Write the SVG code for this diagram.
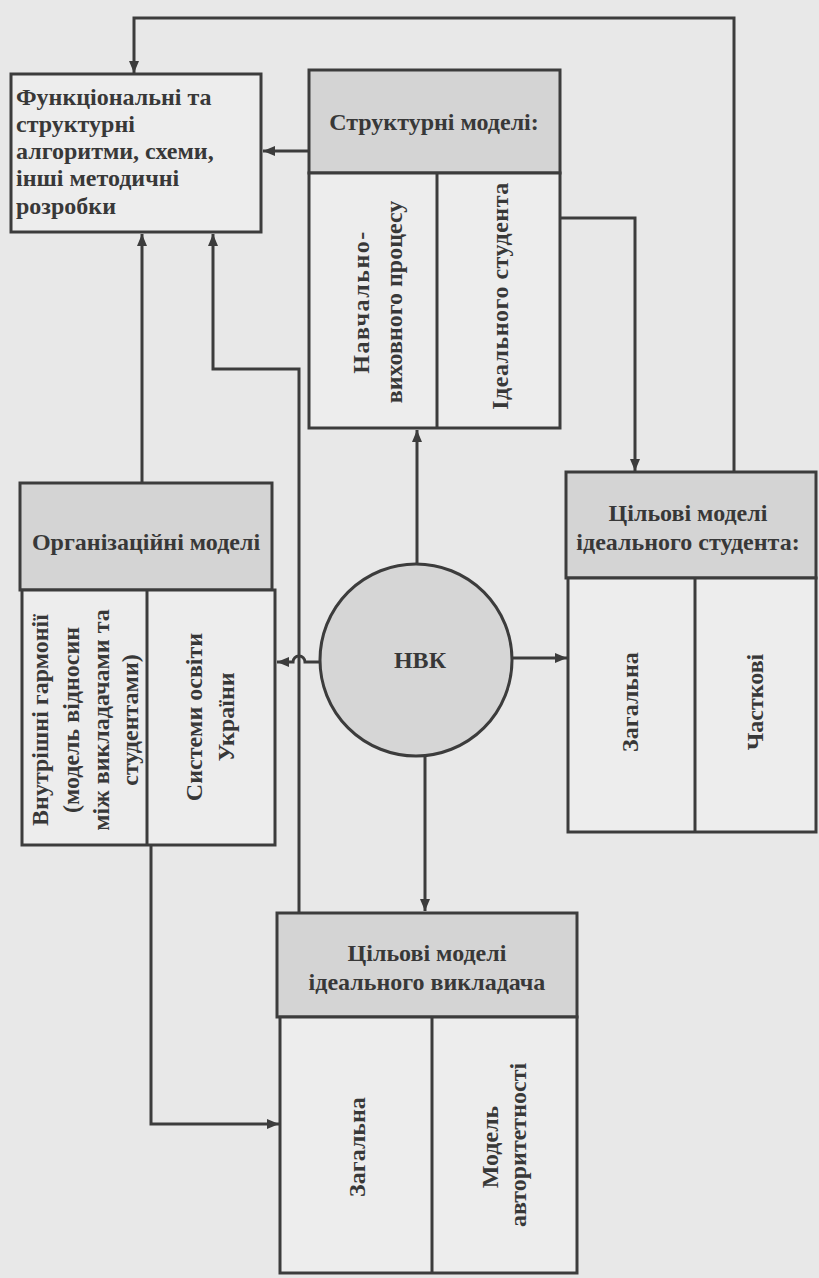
<svg xmlns="http://www.w3.org/2000/svg" width="819" height="1278" viewBox="0 0 819 1278">
<defs>
<style>
.bg{fill:#e8e8e8}
.box{fill:#ededed;stroke:#3c3c3c;stroke-width:3}
.hdr{fill:#d4d4d4;stroke:#3c3c3c;stroke-width:3}
.ln{fill:none;stroke:#3c3c3c;stroke-width:3}
text{font-family:'Liberation Serif','DejaVu Serif',serif;font-weight:bold;font-size:24px;fill:#383838}
.c{text-anchor:middle}
.v{text-anchor:middle;dominant-baseline:central}
</style>
<marker id="ar" markerUnits="userSpaceOnUse" markerWidth="13" markerHeight="11" refX="12" refY="5" orient="auto">
<path d="M0,0 L12,5 L0,10 z" fill="#3c3c3c"/>
</marker>
</defs>
<rect class="bg" x="0" y="0" width="819" height="1278"/>

<g id="connectors">
<path class="ln" d="M734,472 V18 H134 V73" marker-end="url(#ar)"/>
<path class="ln" d="M309,151 H263" marker-end="url(#ar)"/>
<path class="ln" d="M142,483 V234" marker-end="url(#ar)"/>
<path class="ln" d="M299,913 V369 H213 V234" marker-end="url(#ar)"/>
<path class="ln" d="M560,218 H635 V471" marker-end="url(#ar)"/>
<path class="ln" d="M417,564 V430" marker-end="url(#ar)"/>
<path class="ln" d="M425,756 V911" marker-end="url(#ar)"/>
<path class="ln" d="M320,662 H305 A6,6 0 0 0 293,662 H277" marker-end="url(#ar)"/>
<path class="ln" d="M512,658 H567" marker-end="url(#ar)"/>
<path class="ln" d="M151,845 V1124 H279" marker-end="url(#ar)"/>
</g>

<g id="node-methods">
<rect class="box" x="11" y="74" width="250" height="158"/>
<text x="16" y="105">Функціональні та</text>
<text x="16" y="132">структурні</text>
<text x="16" y="159">алгоритми, схеми,</text>
<text x="16" y="186">інші методичні</text>
<text x="16" y="214">розробки</text>
</g>

<g id="node-structural">
<rect class="hdr" x="309" y="70" width="251" height="103"/>
<rect class="box" x="309" y="173" width="251" height="255"/>
<line class="ln" x1="437" y1="173" x2="437" y2="428"/>
<text class="c" x="434" y="130">Структурні моделі:</text>
<text class="v" transform="rotate(-90 361 302)" x="361" y="302" letter-spacing="1.5">Навчально-</text>
<text class="v" transform="rotate(-90 394 302)" x="394" y="302">виховного процесу</text>
<text class="v" transform="rotate(-90 500 296)" x="500" y="296" letter-spacing="0.5">Ідеального студента</text>
</g>

<g id="node-organizational">
<rect class="hdr" x="20" y="483" width="252" height="107"/>
<rect class="box" x="22" y="590" width="253" height="255"/>
<line class="ln" x1="147" y1="590" x2="147" y2="845"/>
<text class="c" x="146" y="550">Організаційні моделі</text>
<text class="v" transform="rotate(-90 40 720)" x="40" y="720">Внутрішні гармонії</text>
<text class="v" transform="rotate(-90 71 720)" x="71" y="720">(модель відносин</text>
<text class="v" transform="rotate(-90 101 720)" x="101" y="720">між викладачами та</text>
<text class="v" transform="rotate(-90 130 720)" x="130" y="720">студентами)</text>
<text class="v" transform="rotate(-90 194 717)" x="194" y="717">Системи освіти</text>
<text class="v" transform="rotate(-90 226 717)" x="226" y="717">України</text>
</g>

<g id="node-nvk">
<circle cx="416" cy="660" r="96" fill="#d6d6d6" stroke="#3c3c3c" stroke-width="3"/>
<text class="c" x="420" y="668">НВК</text>
</g>

<g id="node-student">
<rect class="hdr" x="566" y="472" width="250" height="106"/>
<rect class="box" x="568" y="578" width="248" height="254"/>
<line class="ln" x1="695" y1="578" x2="695" y2="832"/>
<text class="c" x="688" y="521">Цільові моделі</text>
<text class="c" x="688" y="550">ідеального студента:</text>
<text class="v" transform="rotate(-90 630 702)" x="630" y="702">Загальна</text>
<text class="v" transform="rotate(-90 755 702)" x="755" y="702">Часткові</text>
</g>

<g id="node-teacher">
<rect class="hdr" x="277" y="913" width="300" height="104"/>
<rect class="box" x="280" y="1017" width="297" height="256"/>
<line class="ln" x1="432" y1="1017" x2="432" y2="1273"/>
<text class="c" x="427" y="961">Цільові моделі</text>
<text class="c" x="427" y="990">ідеального викладача</text>
<text class="v" transform="rotate(-90 357 1147)" x="357" y="1147">Загальна</text>
<text class="v" transform="rotate(-90 490 1147)" x="490" y="1147">Модель</text>
<text class="v" transform="rotate(-90 518 1145)" x="518" y="1145">авторитетності</text>
</g>
</svg>
